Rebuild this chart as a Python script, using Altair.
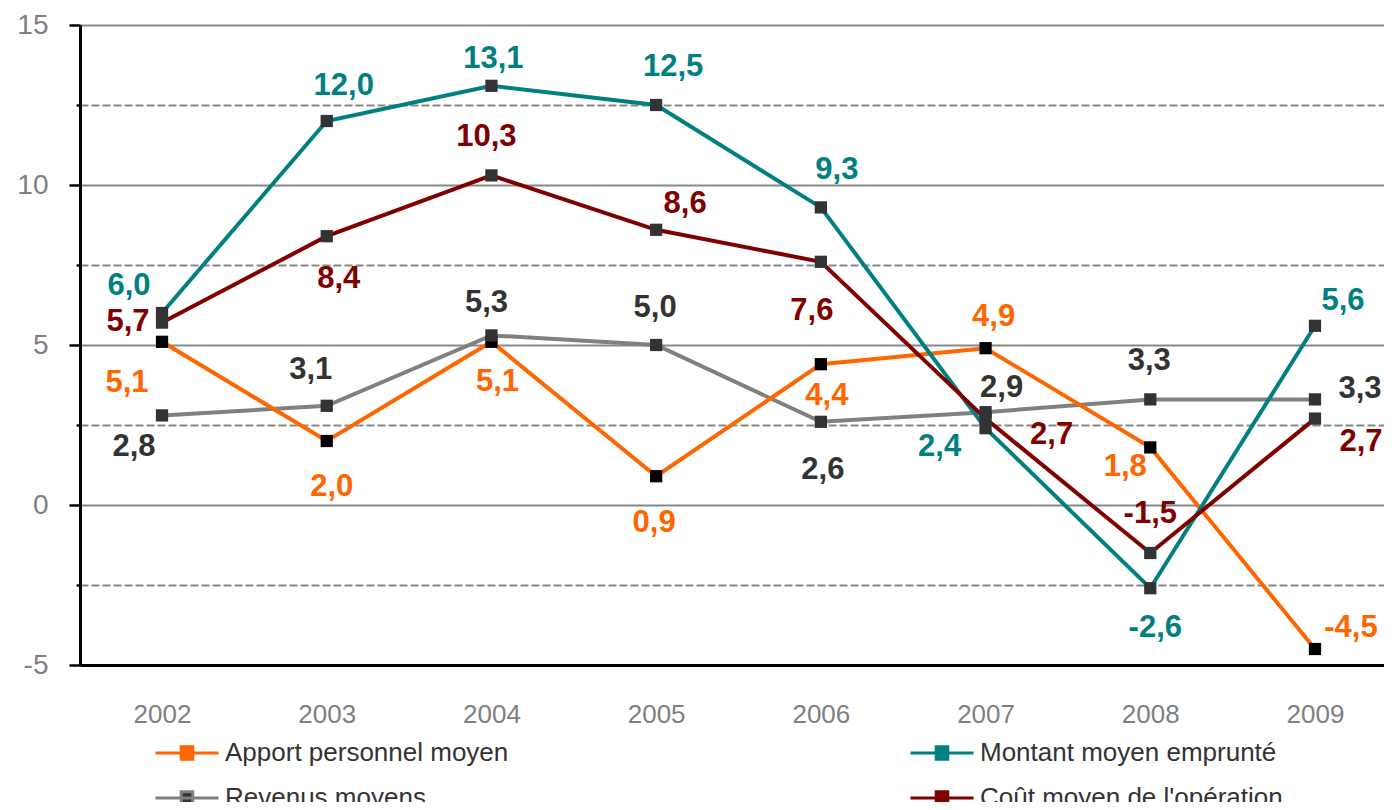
import altair as alt
import pandas as pd

# ---------------- data ----------------
years = [2002, 2003, 2004, 2005, 2006, 2007, 2008, 2009]
series_names = [
    "Apport personnel moyen",
    "Revenus moyens",
    "Montant moyen emprunté",
    "Coût moyen de l'opération",
]
apport = [5.1, 2.0, 5.1, 0.9, 4.4, 4.9, 1.8, -4.5]
montant = [6.0, 12.0, 13.1, 12.5, 9.3, 2.4, -2.6, 5.6]
revenus = [2.8, 3.1, 5.3, 5.0, 2.6, 2.9, 3.3, 3.3]
cout = [5.7, 8.4, 10.3, 8.6, 7.6, 2.7, -1.5, 2.7]
y_ticks = [-5, -2.5, 0, 2.5, 5, 7.5, 10, 12.5, 15]

# ---------------- styles ----------------
line_colors = ["#FF6600", "#808080", "#008080", "#800000"]
label_colors = ["#FF6600", "#333333", "#008080", "#800000"]
draw_order = ["Revenus moyens", "Apport personnel moyen",
              "Montant moyen emprunté", "Coût moyen de l'opération"]
# pixel nudges of the value labels relative to their point (style)
label_nudge = {
    "Apport personnel moyen": [(-35, 41), (5, 46), (6, 40), (-2, 47), (6, 32), (8, -31), (-25, 20), (36, -21)],
    "Montant moyen emprunté": [(-33, -27), (17, -35), (2, -27), (17, -38), (16, -37), (-46, 19), (5, 40), (28, -25)],
    "Revenus moyens": [(-28, 32), (-16, -36), (-5, -32), (-1, -37), (2, 48), (16, -24), (-1, -38), (45, -10)],
    "Coût moyen de l'opération": [(-34, -1), (12, 43), (-5, -38), (29, -26), (-9, 49), (66, 16), (0, -39), (46, 23)],
}
FONT = "Liberation Sans"
W, H = 1304, 640
X_DOM = [2001.502, 2009.419]
Y_DOM = [-5, 15]
px_per_year = W / (X_DOM[1] - X_DOM[0])
px_per_unit = H / (Y_DOM[1] - Y_DOM[0])

values = {"Apport personnel moyen": apport, "Montant moyen emprunté": montant,
          "Revenus moyens": revenus, "Coût moyen de l'opération": cout}
rows = []
for s in series_names:
    for i, (yr, v) in enumerate(zip(years, values[s])):
        dx, dy = label_nudge[s][i]
        rows.append({"series": s, "year": yr, "value": v,
                     "label": f"{v:.1f}".replace(".", ","), "dx": dx, "dy": dy})
df = pd.DataFrame(rows)

x_scale = alt.Scale(domain=X_DOM, nice=False, zero=False)
y_scale = alt.Scale(domain=Y_DOM, nice=False, zero=False)

x_enc = alt.X(
    "year:Q", scale=x_scale,
    axis=alt.Axis(values=years, format="d", title=None, grid=False, ticks=False,
                  domainColor="#000000", domainWidth=3,
                  labelFont=FONT, labelFontSize=26, labelColor="#808080",
                  labelPadding=36),
)
y_enc = alt.Y(
    "value:Q", scale=y_scale,
    axis=alt.Axis(
        values=y_ticks, title=None, grid=True, gridColor="#888888", gridWidth=2,
        gridDash={"condition": {"test": "datum.value % 5 !== 0", "value": [8, 3]}, "value": []},
        tickSize={"condition": {"test": "datum.value % 5 !== 0", "value": 4}, "value": 11},
        tickColor="#000000", tickWidth=2.5,
        domainColor="#000000", domainWidth=3,
        labelExpr="datum.value % 5 === 0 ? toString(datum.value) : ''",
        labelFont=FONT, labelFontSize=28, labelColor="#808080", labelPadding=21,
    ),
)

legend = alt.Legend(
    title=None, orient="none", legendX=94, legendY=715, columns=2,
    symbolType="M-3,0H3M-0.55,-0.6H0.55V0.6H-0.55Z", symbolSize=441,
    symbolStrokeWidth=3, symbolFillColor="#333333",
    labelFont=FONT, labelFontSize=26, labelColor="#333333",
    labelOffset=25, columnPadding=395, rowPadding=19, labelLimit=600,
)

color_enc = alt.Color("series:N", scale=alt.Scale(domain=series_names, range=line_colors),
                      legend=legend)

base = alt.Chart(df)
layers = []
for s in draw_order:
    layers.append(
        base.transform_filter(alt.datum.series == s)
        .mark_line(strokeWidth=4)
        .encode(x=x_enc, y=y_enc, color=color_enc)
    )

points = base.mark_point(shape="square", filled=True, size=150, opacity=1).encode(
    x=x_enc, y=y_enc,
    color=alt.condition("datum.series === 'Apport personnel moyen'",
                        alt.value("#000000"), alt.value("#333333")),
)

labels = base.transform_calculate(
    lx=f"datum.year + datum.dx / {px_per_year}",
    ly=f"datum.value - datum.dy / {px_per_unit}",
).mark_text(font=FONT, fontSize=31, fontWeight="bold",
            align="center", baseline="middle").encode(
    x=alt.X("lx:Q", scale=x_scale),
    y=alt.Y("ly:Q", scale=y_scale),
    text="label:N",
    fill=alt.Fill("series:N", scale=alt.Scale(domain=series_names, range=label_colors),
                  legend=None),
)

chart = alt.layer(*layers, points, labels).properties(
    width=W, height=H, autosize="none",
    padding={"left": 72, "top": 17, "right": 0, "bottom": 137},
).configure_view(stroke=None).configure(background="#ffffff")

chart.save("out.html", embed_options={"renderer": "svg", "actions": False})
